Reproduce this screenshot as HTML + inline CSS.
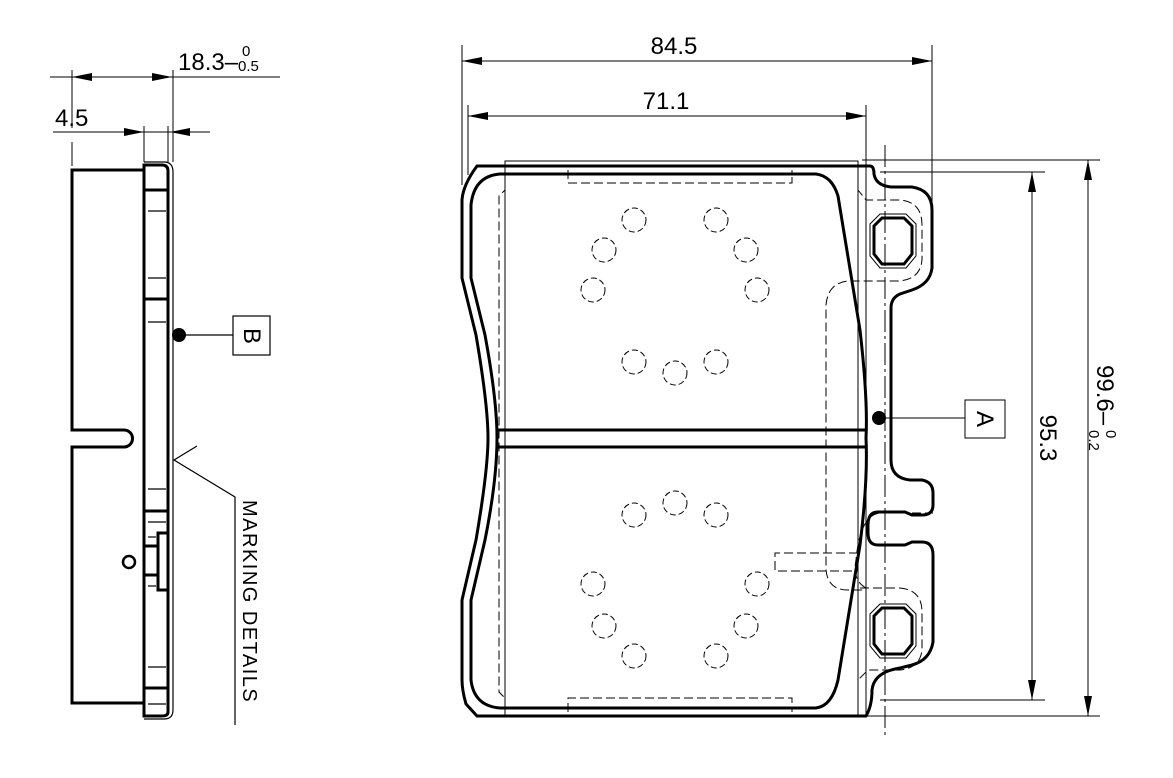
<!DOCTYPE html>
<html><head><meta charset="utf-8"><style>
html,body{margin:0;padding:0;background:#fff}
svg{display:block}
text{font-family:"Liberation Sans",sans-serif;fill:#000}
</style></head><body>
<svg width="1173" height="778" viewBox="0 0 1173 778" xmlns="http://www.w3.org/2000/svg">
<defs>
<marker id="ar" viewBox="0 0 20 8" refX="20" refY="4" markerWidth="20" markerHeight="8" markerUnits="userSpaceOnUse" orient="auto-start-reverse"><path d="M0,0 L20,4 L0,8 Z" fill="#000"/></marker>
</defs>
<g fill="none" stroke="#000">
<!-- ===== LEFT SIDE VIEW ===== -->
<g stroke-width="1">
<line x1="50" y1="77" x2="280" y2="77"/>
<line x1="72" y1="77" x2="172" y2="77" marker-start="url(#ar)" marker-end="url(#ar)"/>
<line x1="72" y1="70" x2="72" y2="128"/>
<line x1="72" y1="142" x2="72" y2="166"/>
<line x1="173" y1="70" x2="173" y2="162"/>
<line x1="53" y1="132" x2="210" y2="132"/>
<line x1="123" y1="132" x2="144" y2="132" marker-end="url(#ar)"/>
<line x1="190" y1="132" x2="170" y2="132" marker-end="url(#ar)"/>
<line x1="144" y1="126" x2="144" y2="162"/>
<line x1="168" y1="126" x2="168" y2="162"/>
</g>
<g stroke-width="3">
<path d="M144,170 H72 V430 H124 A8.5,8.5 0 0 1 124,447 H72 V703 H144"/>
<path d="M144,716 V165 H162 Q168,165 168,171 V712 Q168,716 162,716 Z"/>
<line x1="144" y1="190" x2="168" y2="190"/>
<line x1="144" y1="299" x2="168" y2="299"/>
<line x1="144" y1="511" x2="168" y2="511"/>
<line x1="144" y1="688" x2="168" y2="688"/>
<path d="M168,533 H158 V590 H168"/>
<path d="M144,546 H158 M144,575 H158"/>
<circle cx="129" cy="562" r="6" stroke-width="2.5"/>
</g>
<g stroke-width="1.2">
<path d="M144,162 H164 Q173,162 173,172 V710 Q173,719 164,719 H144"/>
<line x1="148" y1="211" x2="166" y2="211"/><line x1="148" y1="278" x2="166" y2="278"/>
<line x1="148" y1="322" x2="166" y2="322"/><line x1="148" y1="489" x2="166" y2="489"/>
<line x1="148" y1="522" x2="166" y2="522"/><line x1="148" y1="537" x2="156" y2="537"/>
<line x1="148" y1="586" x2="156" y2="586"/><line x1="148" y1="667" x2="166" y2="667"/>
<line x1="148" y1="704" x2="166" y2="704"/>
<line x1="178" y1="335" x2="233" y2="335"/>
<rect x="233" y="316" width="37" height="39"/>
<path d="M197,446 L174,460 L235,497 V725"/>
</g>
<circle cx="179" cy="335" r="7" fill="#000" stroke="none"/>

<!-- ===== MAIN VIEW ===== -->
<g stroke-width="1">
<line x1="462" y1="61" x2="932" y2="61" marker-start="url(#ar)" marker-end="url(#ar)"/>
<line x1="468" y1="116" x2="866" y2="116" marker-start="url(#ar)" marker-end="url(#ar)"/>
<line x1="462" y1="45" x2="462" y2="185"/>
<line x1="932" y1="45" x2="932" y2="205"/>
<line x1="468" y1="105" x2="468" y2="175"/>
<line x1="866" y1="105" x2="866" y2="716"/>
<line x1="1032" y1="172" x2="1032" y2="700" marker-start="url(#ar)" marker-end="url(#ar)"/>
<line x1="1088" y1="160" x2="1088" y2="716" marker-start="url(#ar)" marker-end="url(#ar)"/>
<line x1="862" y1="160" x2="1100" y2="160"/>
<line x1="880" y1="172" x2="1045" y2="172"/>
<line x1="880" y1="700" x2="1045" y2="700"/>
<line x1="862" y1="716" x2="1100" y2="716"/>
<line x1="885" y1="145" x2="885" y2="738" stroke-dasharray="22,4,3,4"/>
<rect x="505" y="161" width="353" height="555"/>
<line x1="886" y1="418" x2="965" y2="418"/>
<rect x="965" y="400" width="40" height="38"/>
</g>
<circle cx="879" cy="418" r="7" fill="#000" stroke="none"/>
<!-- backplate -->
<path stroke-width="3" d="M477,166 H870 Q874,166 874,174 Q876,186 892,187 H912 Q932,190 932,210 V268 Q930,284 912,290 L900,294 Q891,298 891,308 V460 Q891,478 910,480 H922 Q933,482 933,493 V505 Q933,515 922,515 H912 L905,512 H878 Q868,512 868,525 V533 Q868,545 878,545 H905 L912,542 H922 Q933,542 933,555 V642 Q930,660 912,665 L900,668 Q874,672 872,690 Q872,706 866,716 H477 L466,704 Q462,690 462,680 V600 L476,540 Q488,470 488,438 Q488,405 476,335 L462,278 V200 Q463,185 477,166 Z"/>
<!-- friction -->
<path stroke-width="3" d="M505,174 H816 Q832,176 838,196 L860,330 Q868,400 866,438 Q868,480 860,545 L838,680 Q832,706 816,708 H500 Q474,706 471,680 V600 L485,540 Q497,480 497,438 Q497,400 485,335 L471,278 V205 Q474,176 500,174 Z"/>
<line stroke-width="3" x1="497" y1="430" x2="866" y2="430"/>
<line stroke-width="3" x1="497" y1="447" x2="866" y2="447"/>
<!-- ear holes -->
<g stroke-width="3">
<path d="M882,218 H904 L912,226 V254 L904,264 H882 L874,254 V226 Z"/>
<path d="M882,608 H904 L912,616 V644 L904,654 H882 L874,644 V616 Z"/>
</g>
<g stroke-width="1">
<path d="M880,214 H906 L916,224 V256 L906,268 H880 L870,256 V224 Z"/>
<path d="M880,604 H906 L916,614 V646 L906,658 H880 L870,646 V614 Z"/>
</g>
<!-- dashed lines -->
<g stroke-width="1" stroke-dasharray="9,4">
<path d="M568,170 V183 H792 V170"/>
<path d="M568,712 V698 H792 V712"/>
<path d="M505,172 V190 L499,196 V692 L505,698 V712"/>
<path d="M858,175 V190 L866,200 H900 Q922,202 922,225 V260 Q920,280 898,281 H848 Q828,283 826,305 V570 Q828,590 848,590 H866"/>
<path d="M860,588 H900 Q922,590 922,612 V650 Q920,668 900,670 H868 L858,680 V712"/>
<path d="M873,513 H933 M873,545 H900"/>
<path d="M858,553 H775 V571 H858"/>
<path d="M866,588 Q852,580 856,560 Q860,515 880,513"/>
</g>
<g stroke-width="1" stroke-dasharray="6,3">
<circle cx="634" cy="220" r="12"/><circle cx="716" cy="220" r="12"/>
<circle cx="604" cy="250" r="12"/><circle cx="746" cy="250" r="12"/>
<circle cx="593" cy="290" r="12"/><circle cx="757" cy="290" r="12"/>
<circle cx="634" cy="362" r="12"/><circle cx="675" cy="373" r="12"/><circle cx="716" cy="362" r="12"/>
<circle cx="675" cy="503" r="12"/><circle cx="634" cy="515" r="12"/><circle cx="716" cy="515" r="12"/>
<circle cx="593" cy="584" r="12"/><circle cx="757" cy="584" r="12"/>
<circle cx="604" cy="626" r="12"/><circle cx="746" cy="626" r="12"/>
<circle cx="634" cy="656" r="12"/><circle cx="716" cy="656" r="12"/>
</g>
</g>
<!-- texts -->
<text x="178" y="70" font-size="24">18.3–</text>
<text x="242" y="56" font-size="15">0</text>
<text x="238" y="71" font-size="15">0.5</text>
<text x="55" y="126" font-size="24">4.5</text>
<text x="674" y="54" font-size="24" text-anchor="middle">84.5</text>
<text x="666" y="109" font-size="24" text-anchor="middle">71.1</text>
<text transform="translate(244,336) rotate(90)" font-size="24" text-anchor="middle">B</text>
<text transform="translate(977,419) rotate(90)" font-size="24" text-anchor="middle">A</text>
<text transform="translate(243,500) rotate(90)" font-size="20" letter-spacing="1.5">MARKING  DETAILS</text>
<text transform="translate(1040,438) rotate(90)" font-size="24" text-anchor="middle">95.3</text>
<text transform="translate(1097,365) rotate(90)" font-size="24">99.6–</text>
<text transform="translate(1106,430) rotate(90)" font-size="15">0</text>
<text transform="translate(1089,430) rotate(90)" font-size="15">0.2</text>
</svg>
</body></html>
